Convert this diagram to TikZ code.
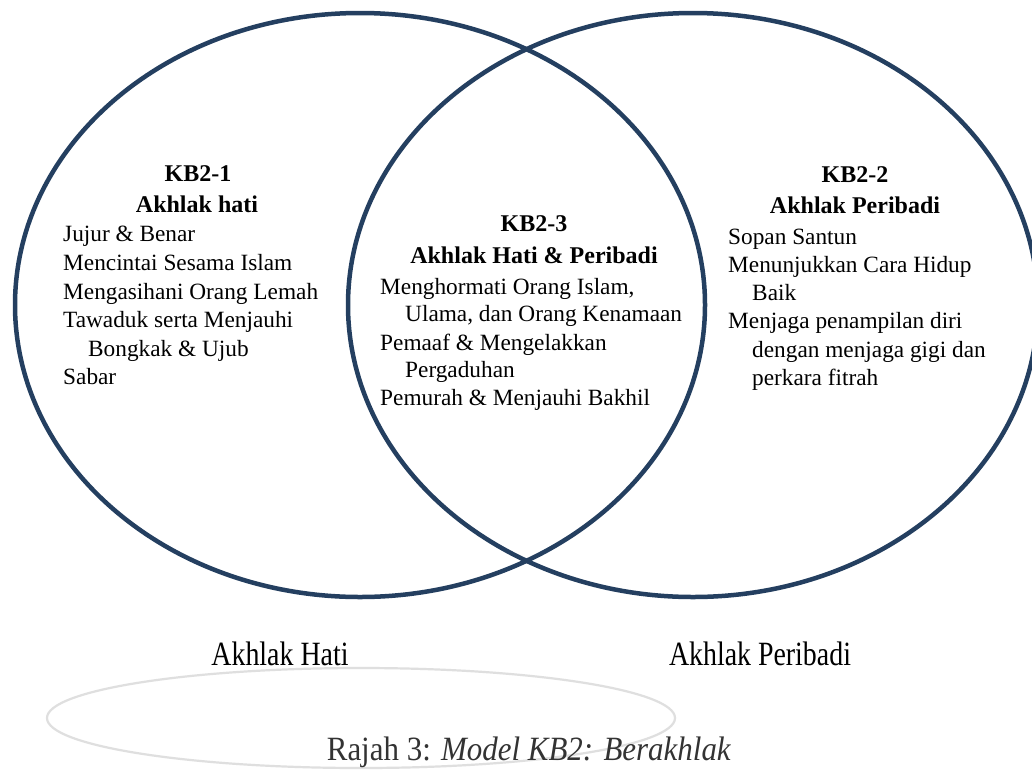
\documentclass[tikz,border=0pt]{standalone}
\usepackage{fontspec}
\setmainfont{Liberation Serif}
\definecolor{navy}{RGB}{36,63,96}
\tikzset{
  venn/.style={draw=navy, line width=4.5pt},
  itemtext/.style={anchor=base west, inner sep=0pt, font=\fontsize{23.3}{28}\selectfont},
  headtext/.style={anchor=base, inner sep=0pt, font=\fontsize{24}{28}\selectfont\bfseries},
  bottomlabel/.style={anchor=base, inner sep=0pt, font=\fontsize{34}{38}\selectfont, xscale=0.82},
  captiontext/.style={anchor=base, inner sep=0pt, font=\fontsize{34}{38}\selectfont, text=black!80, xscale=0.91}
}
\begin{document}
\begin{tikzpicture}[x=1pt,y=-1pt]
\clip (0,0) rectangle (1032,774);
\fill[white] (0,0) rectangle (1032,774);
% gray ellipse
\draw[gray!25, line width=2.2pt] (361,718) ellipse [x radius=314, y radius=50];
% Venn ellipses
\draw[venn] (360,305) ellipse [x radius=345, y radius=292];
\draw[venn] (693,305) ellipse [x radius=345, y radius=292];
% left
\node[headtext] (h1a) at (198,181.7) {KB2-1};
\node[headtext] (h1b) at (197,212.7) {Akhlak hati};
\node[itemtext] (l1) at (63,241.7) {Jujur \& Benar};
\node[itemtext] (l2) at (63,270.5) {Mencintai Sesama Islam};
\node[itemtext] (l3) at (63,299) {Mengasihani Orang Lemah};
\node[itemtext] (l4) at (63,327.5) {Tawaduk serta Menjauhi};
\node[itemtext] (l5) at (88,356) {Bongkak \& Ujub};
\node[itemtext] (l6) at (63,384.5) {Sabar};
% middle
\node[headtext] (h3a) at (534,231.7) {KB2-3};
\node[headtext] (h3b) at (534,263) {Akhlak Hati \& Peribadi};
\node[itemtext] (m1) at (380,294) {Menghormati Orang Islam,};
\node[itemtext] (m2) at (405,321.7) {Ulama, dan Orang Kenamaan};
\node[itemtext] (m3) at (380,350) {Pemaaf \& Mengelakkan};
\node[itemtext] (m4) at (405,377) {Pergaduhan};
\node[itemtext] (m5) at (380,405.7) {Pemurah \& Menjauhi Bakhil};
% right
\node[headtext] (h2a) at (855,182) {KB2-2};
\node[headtext] (h2b) at (855,213) {Akhlak Peribadi};
\node[itemtext] (r1) at (728,244) {Sopan Santun};
\node[itemtext] (r2) at (728,272) {Menunjukkan Cara Hidup};
\node[itemtext] (r3) at (752,300) {Baik};
\node[itemtext] (r4) at (728,328.5) {Menjaga penampilan diri};
\node[itemtext] (r5) at (752,357) {dengan menjaga gigi dan};
\node[itemtext] (r6) at (752,385.5) {perkara fitrah};
% bottom labels
\node[bottomlabel] (bl1) at (280,665) {Akhlak Hati};
\node[bottomlabel] (bl2) at (760,665) {Akhlak Peribadi};
\node[captiontext] (caption) at (529,760) {Rajah 3: \textit{Model KB2: Berakhlak}};
\end{tikzpicture}
\end{document}
